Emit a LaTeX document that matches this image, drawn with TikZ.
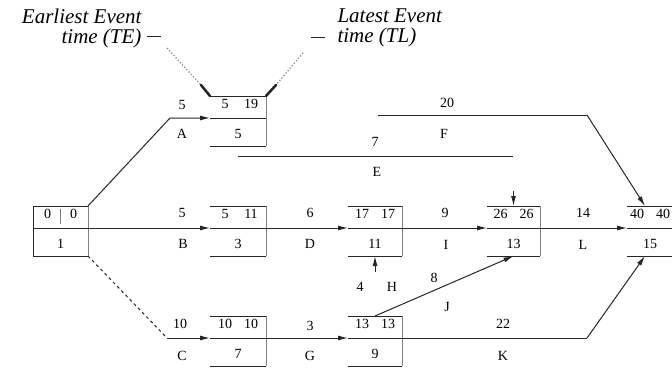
\documentclass[tikz,border=0pt]{standalone}
\usepackage{fontspec}
\setmainfont{Liberation Serif}
\usetikzlibrary{arrows.meta}
\newcommand{\evbox}[7]{%
  \coordinate (#1-w) at (#2,#4);
  \coordinate (#1-e) at (#3,#4);
  \coordinate (#1-nw) at (#2,#4-22);
  \coordinate (#1-ne) at (#3,#4-22);
  \coordinate (#1-sw) at (#2,#4+28);
  \coordinate (#1-se) at (#3,#4+28);
  \coordinate (#1-n) at ({(#2+#3)/2},#4-22);
  \coordinate (#1-s) at ({(#2+#3)/2},#4+28);
  \draw (#1-nw) -- (#1-ne);
  \draw (#1-sw) -- (#1-se);
  \draw (#1-w) -- (#1-e);
  \draw[side] (#1-ne) -- (#1-se);
  \node (#1-te) at ({(#2+#3)/2-13},#4-14) {#5};
  \node (#1-tl) at ({(#2+#3)/2+13},#4-14) {#6};
  \node (#1-no) at ({(#2+#3)/2},#4+16) {#7};
}

\begin{document}
\begin{tikzpicture}[x=1pt,y=-1pt,line width=1pt,draw=black!85,
  every node/.style={font=\fontsize{14}{16}\selectfont,inner sep=0pt},
  side/.style={line width=0.5pt,gray},
  act/.style={-{Latex[length=10pt,width=5pt]}},
  leader/.style={dotted,gray,line width=1.2pt},
  bracket/.style={line width=2.5pt,line cap=round},
  lbl/.style={font=\fontsize{21}{20}\selectfont\itshape}]
  \useasboundingbox (0,0) rectangle (672,367);
  \evbox{n1}{33}{88}{228}{0}{0}{1}
  \evbox{n2}{210}{266}{118}{5}{19}{5}
  \evbox{n3}{210}{266}{228}{5}{11}{3}
  \evbox{n4}{210}{266}{338}{10}{10}{7}
  \evbox{n5}{348}{402}{228}{17}{17}{11}
  \evbox{n6}{348}{402}{338}{13}{13}{9}
  \evbox{n7}{487}{540}{228}{26}{26}{13}
  \evbox{n8}{627}{673}{228}{40}{40}{15}
  \draw (n1-nw) -- (n1-sw);
  \draw[side] (60,209) -- (60,224);
  \coordinate (a-bend) at (170,118);
  \coordinate (c-bend) at (167,338);
  \coordinate (e-l) at (238,156);
  \coordinate (e-r) at (513,156);
  \coordinate (e-tip) at (513.5,191);
  \coordinate (f-l) at (378,115);
  \coordinate (f-bend) at (587,115);
  \coordinate (f-end) at (645,206);
  \coordinate (h-tail) at (375,272);
  \coordinate (k-bend) at (587,338);
  \coordinate (k-end) at (645,256);
  \draw[act] (n1-ne) -- (a-bend) -- (n2-w);
  \draw[dashed] (n1-se) -- (c-bend);
  \draw[act] (c-bend) -- (n4-w);
  \foreach \a/\b in {n1/n3,n3/n5,n4/n6,n5/n7,n7/n8} {
    \draw[act] (\a-e) -- (\b-w);
  }
  \draw (e-l) -- (e-r);
  \draw[act] (e-tip) -- (n7-n);
  \draw (f-l) -- (f-bend);
  \draw[act] (f-bend) -- (f-end);
  \draw[act] (h-tail) -- (n5-s);
  \draw[act] (n6-n) -- (n7-s);
  \draw (n6-e) -- (k-bend);
  \draw[act] (k-bend) -- (k-end);
  \foreach \xd/\yd/\d/\xl/\yl/\a in {
    182/105/5/182/134/A,182/213/5/183/244/B,180/324/10/182/356/C,
    310/213/6/310/244/D,310/326/3/310/356/G,375/142/7/377/172/E,
    447/103/20/444/134/F,445/213/9/446/245/I,583/213/14/583/245/L,
    360/287/4/392/287/H,434/278/8/447/307/J,503/324/22/503/356/K} {
    \node (dur-\a) at (\xd,\yd) {\d};
    \node (act-\a) at (\xl,\yl) {\a};
  }
  \node[lbl,anchor=east,align=right] (te-label) at (142,28) {Earliest Event\\time (TE)};
  \node[lbl,anchor=west,align=left] (tl-label) at (337,28) {Latest Event\\time (TL)};
  \coordinate (te-dash) at (147,36);
  \coordinate (te-dot) at (167,48);
  \coordinate (te-tip) at (201,85);
  \coordinate (tl-dash) at (325,37);
  \coordinate (tl-dot) at (303,53);
  \coordinate (tl-tip) at (276,85);
  \draw (te-dash) -- ++(14,0);
  \draw (tl-dash) -- ++(-14,0);
  \draw[leader] (te-dot) -- (te-tip);
  \draw[leader] (tl-dot) -- (tl-tip);
  \draw[bracket] (te-tip) -- (n2-nw);
  \draw[bracket] (tl-tip) -- (n2-ne);
\end{tikzpicture}
\end{document}
